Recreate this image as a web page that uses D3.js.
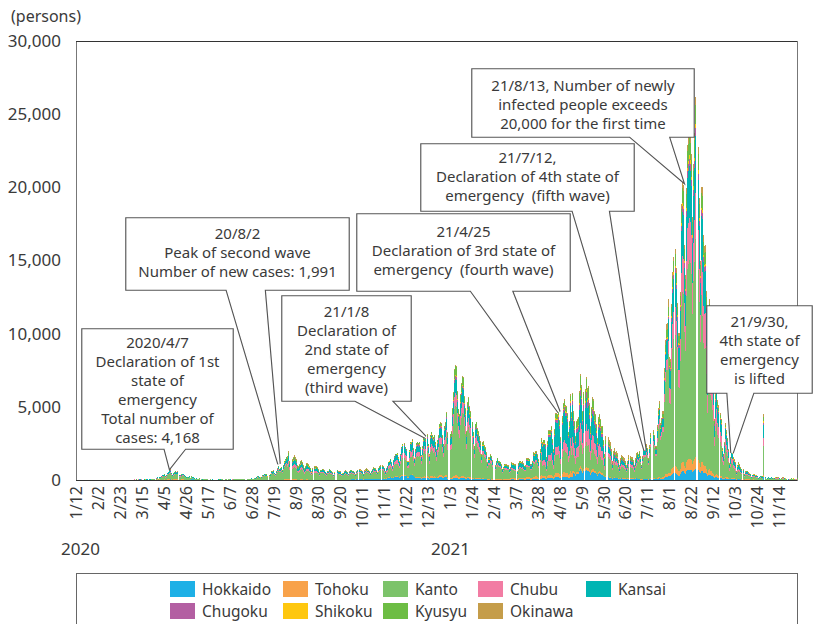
<!DOCTYPE html>
<html>
<head>
<meta charset="utf-8">
<script src="https://cdn.jsdelivr.net/npm/d3@7"></script>
<style>
body { margin: 0; background: #fff; }
svg text { font-family: "Noto Sans", sans-serif; fill: #3a3a3a; }
</style>
</head>
<body>
<svg id="chart" width="813" height="624"></svg>
<script>
// new cases per day, whole country, one row per week (Sun..Sat), first day 2020-01-12
var dailyTotal = [
  0,0,0,1,0,0,0,
  0,0,0,0,1,1,1,
  0,0,2,1,3,1,2,
  0,0,0,0,2,0,1,
  0,0,0,1,5,2,1,
  5,5,3,4,8,12,14,
  12,10,14,16,24,21,14,
  10,16,18,33,28,37,59,
  33,35,28,54,52,41,60,
  23,17,44,37,39,43,33,
  38,41,68,65,96,90,112,
  194,88,225,206,266,354,362,
  385,248,351,503,579,658,718,
  507,373,451,548,587,570,584,
  348,342,390,440,436,366,304,
  201,174,210,283,165,258,204,
  200,125,87,122,96,82,104,
  52,41,79,57,99,53,62,
  30,27,49,27,38,14,14,
  21,26,25,38,35,42,52,
  45,31,39,40,34,48,47,
  37,29,38,55,40,43,60,
  62,46,44,40,41,68,75,
  57,38,48,68,75,75,110,
  92,86,119,125,194,250,275,
  200,187,204,326,369,430,405,
  408,261,333,400,621,588,658,
  510,420,631,795,981,779,843,
  885,697,1031,1314,1451,1580,1633,
  1991,1329,1342,1450,1595,1705,1563,
  1441,994,923,1080,1276,1359,1225,
  1013,795,981,1163,1152,1107,974,
  837,616,816,949,945,963,877,
  730,526,697,708,775,744,676,
  579,452,607,605,748,683,607,
  518,359,565,640,692,598,586,
  586,424,491,482,582,662,594,
  561,424,601,688,709,639,627,
  536,389,614,697,743,723,672,
  585,409,654,729,792,724,684,
  602,489,630,757,870,842,791,
  656,570,840,945,1019,1005,978,
  800,582,830,952,1231,1328,1440,
  1232,981,1388,1640,1771,1809,1834,
  1539,1317,1773,2285,2481,2496,2268,
  2144,1320,1326,2038,2609,2566,2769,
  2160,1535,2139,2534,2613,2542,2607,
  2249,1722,2311,2896,3140,2867,3130,
  2457,1784,3090,3311,3095,2972,3086,
  2600,2110,2753,3062,3851,3943,3898,
  3051,2489,3706,3940,4615,3250,3135,
  3158,3325,4915,6004,7570,7882,7790,
  6094,4876,4536,5874,6605,7133,7014,
  5759,4925,3318,5320,5664,5041,4717,
  3990,3300,2325,3854,3996,3530,3340,
  3039,2673,1781,2630,2647,2379,2284,
  1893,1218,1565,1569,1768,1668,1362,
  1377,1002,1308,1532,1317,1299,1236,
  1091,744,882,1111,1077,1072,996,
  997,775,884,1223,1173,1149,1071,
  1062,602,1128,1303,1321,1224,1286,
  1163,986,1012,1482,1528,1473,1463,
  1112,1115,1314,1907,1849,2009,2015,
  1747,1401,2086,2840,2612,2761,2764,
  2471,1570,2653,3446,3451,3436,3697,
  2778,2121,3453,4572,4568,4537,4797,
  4092,2925,4340,5292,5520,5114,5075,
  4606,3314,4048,5870,4677,5979,4705,
  4025,3000,4065,4190,4307,6052,7244,
  6479,4715,5997,6215,7050,6262,6417,
  5244,3667,5019,5683,5534,4735,4518,
  3810,2870,4286,4532,4202,3702,3692,
  2745,1788,3004,3188,2905,2759,2578,
  2091,1298,1981,2217,1932,1976,1863,
  1383,1000,1478,1740,1653,1555,1477,
  1290,1000,1305,1700,1669,1600,1600,
  1336,1051,1508,1827,1890,1777,1963,
  1628,1034,1642,2192,2253,2261,2454,
  2180,1485,2376,3193,3422,3430,3099,
  2322,2323,3758,4933,5396,3887,4224,
  4694,4685,7626,9576,10692,10743,12342,
  8392,8260,12034,14214,15262,15753,14465,
  12091,10034,10012,12855,18890,20365,20151,
  16083,14031,19955,22921,23456,23868,23492,
  22294,17968,21571,23692,26150,23935,22750,
  19263,14990,20020,20040,16750,16000,16079,
  12900,8220,11900,12400,10400,9800,8500,
  7200,4170,6000,6800,5500,5100,4600,
  4200,2200,1800,2600,3900,3400,2900,
  2142,1150,1585,2129,1976,1580,1447,
  1238,605,1041,1216,1064,875,768,
  727,388,600,615,624,513,508,
  414,229,375,430,377,352,320,
  304,155,234,301,264,265,4500,
  222,86,138,232,166,162,230,
  162,104,153,200,191,176,175,
  132,78,111,178,177,133,120,
  97,50,73,95,115,101,118,
  100,64,72,116
];

var regions = ["Hokkaido","Tohoku","Kanto","Chubu","Kansai","Chugoku","Shikoku","Kyusyu","Okinawa"];
var regionColors = ["#1eb0e6","#f8a24a","#7cc36a","#f27ca3","#00b5b3","#b35fa2","#fec70f","#6dbd44","#c59d4a"];

// share of each region in %, by month 2020-01 .. 2021-12
var hokkaidoShare = [10,30,15,5,20,10,1,1,2,7,12,5, 2,2,3,4,10,6,2,3,3,4,4,4];
var tohokuShare   = [0,2,3,4,2,1,2,2,2,3,2,3, 2,2,9,6,3,2,2,3,3,4,4,4];
var kantoShare    = [50,35,35,58,55,78,65,50,60,56,47,55, 60,62,48,27,24,45,66,57,50,44,38,38];
var chubuShare    = [20,15,12,8,4,3,7,12,10,9,14,11, 11,10,7,12,17,11,7,12,15,12,14,14];
var kansaiShare   = [10,8,25,14,10,4,15,17,15,13,18,16, 13,12,20,37,25,13,12,15,18,20,20,20];
var chugokuShare  = [0,0,2,2,1,0,1,1,1,1,2,3, 2,1,3,4,6,5,1,2,2,3,4,4];
var shikokuShare  = [0,1,1,1,0,0,1,1,1,1,1,1, 1,1,1,2,2,1,1,1,1,2,3,3];
var kyusyuShare   = [5,3,5,7,8,4,6,10,5,4,3,5, 8,7,5,6,11,7,5,5,5,7,8,8];
var okinawaShare  = [5,6,2,1,0,0,2,6,4,6,1,1, 1,3,4,2,2,10,4,2,3,4,5,5];
var shares = [hokkaidoShare,tohokuShare,kantoShare,chubuShare,kansaiShare,chugokuShare,shikokuShare,kyusyuShare,okinawaShare];

var yTicks = [0,5000,10000,15000,20000,25000,30000];
var tickEvery = 21;

var start = new Date(2020, 0, 12);
var fmtDay = d3.timeFormat("%-m/%-d");

var svg = d3.select("#chart");

var x = d3.scaleBand()
    .domain(d3.range(dailyTotal.length))
    .range([76, 798]);
var bw = x.bandwidth();

var y = d3.scaleLinear()
    .domain([0, 30000])
    .range([480, 41]);

var color = d3.scaleOrdinal().domain(regions).range(regionColors);

var table = dailyTotal.map(function(t, i) {
  var d = d3.timeDay.offset(start, i);
  var m = (d.getFullYear() - 2020) * 12 + d.getMonth();
  var row = {i: i};
  regions.forEach(function(r, k) { row[r] = t * shares[k][m] / 100; });
  return row;
});

var series = d3.stack().keys(regions)(table);

// plot frame
svg.append("rect")
    .attr("x", 76.5).attr("y", 41.5)
    .attr("width", 721).attr("height", 439)
    .attr("fill", "none")
    .attr("stroke", "#777");
svg.append("line").attr("x1", 76).attr("x2", 797).attr("y1", 41.5).attr("y2", 41.5)
    .attr("stroke", "#333");

// bars
svg.append("g")
    .attr("shape-rendering", "crispEdges")
  .selectAll("g")
  .data(series)
  .enter().append("g")
    .attr("fill", function(s) { return color(s.key); })
  .selectAll("rect")
  .data(function(s) { return s; })
  .enter().append("rect")
    .attr("x", function(d) { return x(d.data.i); })
    .attr("y", function(d) { return y(d[1]); })
    .attr("width", bw - 0.06)
    .attr("height", function(d) { return Math.max(0, y(d[0]) - y(d[1])); });

svg.append("line").attr("x1", 76).attr("x2", 797).attr("y1", 480.5).attr("y2", 480.5)
    .attr("stroke", "#333");

// y axis labels
svg.append("g").selectAll("text")
  .data(yTicks)
  .enter().append("text")
    .attr("x", 61)
    .attr("y", function(d) { return y(d); })
    .attr("dy", "0.35em")
    .attr("text-anchor", "end")
    .style("font-size", "17px")
    .text(d3.format(","));

svg.append("text")
    .attr("x", 11).attr("y", 22)
    .style("font-size", "16px")
    .text("(persons)");

// x axis labels
var tickIdx = d3.range(0, dailyTotal.length, tickEvery);
svg.append("g").selectAll("text")
  .data(tickIdx)
  .enter().append("text")
    .attr("transform", function(i) { return "translate(" + (x(i) + bw / 2) + ",486) rotate(-90)"; })
    .attr("dy", "0.35em")
    .attr("text-anchor", "end")
    .style("font-size", "16px")
    .text(function(i) { return fmtDay(d3.timeDay.offset(start, i)); });

svg.append("text").attr("x", 61).attr("y", 555).style("font-size", "17px").text("2020");
svg.append("text").attr("x", 431).attr("y", 555).style("font-size", "17px").text("2021");

// callouts
var callouts = [
  {x0: 83, y0: 330, x1: 232, y1: 448, b0: 165, b1: 185, tx: 170, ty: 467, ty0: 343, lh: 19,
   lines: ["2020/4/7", "Declaration of 1st", "state of", "emergency", "Total number of", "cases: 4,168"]},
  {x0: 127, y0: 219, x1: 348, y1: 289, b0: 227, b1: 264, tx: 279, ty: 464, ty0: 234, lh: 19,
   lines: ["20/8/2", "Peak of second wave", "Number of new cases: 1,991"]},
  {x0: 283, y0: 297, x1: 410, y1: 400, b0: 355, b1: 390, tx: 425, ty: 437, ty0: 312, lh: 19,
   lines: ["21/1/8", "Declaration of", "2nd state of", "emergency", "(third wave)"]},
  {x0: 358, y0: 215, x1: 569, y1: 290, b0: 471, b1: 511, tx: 559, ty: 412, ty0: 232, lh: 19,
   lines: ["21/4/25", "Declaration of 3rd state of", "emergency  (fourth wave)"]},
  {x0: 422, y0: 145, x1: 633, y1: 210, b0: 573, b1: 608, tx: 645, ty: 450, ty0: 158, lh: 19,
   lines: ["21/7/12,", "Declaration of 4th state of", "emergency  (fifth wave)"]},
  {x0: 473, y0: 70, x1: 693, y1: 136, b0: 630, b1: 668, tx: 682, ty: 180, ty0: 86, lh: 19,
   lines: ["21/8/13, Number of newly", "infected people exceeds", "20,000 for the first time"]},
  {x0: 708, y0: 307, x1: 811, y1: 392, b0: 728, b1: 753, tx: 732, ty: 453, ty0: 322, lh: 19,
   lines: ["21/9/30,", "4th state of", "emergency", "is lifted"]}
];

function calloutPath(c) {
  return "M" + c.x0 + "," + c.y0 + "H" + c.x1 + "V" + c.y1 + "H" + c.b1 +
    "L" + c.tx + "," + c.ty + "L" + c.b0 + "," + c.y1 + "H" + c.x0 + "Z";
}

var cg = svg.append("g").selectAll("g")
  .data(callouts)
  .enter().append("g");

cg.append("path")
    .attr("d", calloutPath)
    .attr("fill", "#fff")
    .attr("stroke", "#555")
    .attr("stroke-width", 3.6)
    .attr("stroke-linejoin", "miter");
cg.append("path")
    .attr("d", calloutPath)
    .attr("fill", "#fff")
    .attr("stroke", "#fff")
    .attr("stroke-width", 1.3);

cg.each(function(c) {
  d3.select(this).selectAll("text")
    .data(c.lines)
    .enter().append("text")
      .attr("x", (c.x0 + c.x1) / 2)
      .attr("y", function(d, k) { return c.ty0 + k * c.lh; })
      .attr("dy", "0.35em")
      .attr("text-anchor", "middle")
      .style("font-size", "15px")
      .style("white-space", "pre")
      .text(function(d) { return d; });
});

// legend
svg.append("rect")
    .attr("x", 76.5).attr("y", 573.5)
    .attr("width", 721).attr("height", 70)
    .attr("fill", "#fff")
    .attr("stroke", "#666");

var legendCols = [170, 283, 383, 478, 586];
var lg = svg.append("g").selectAll("g")
  .data(regions)
  .enter().append("g")
    .attr("transform", function(r, k) {
      return "translate(" + legendCols[k % 5] + "," + (k < 5 ? 581 : 603) + ")";
    });
lg.append("rect").attr("width", 25).attr("height", 16).attr("fill", color);
lg.append("text").attr("x", 32).attr("y", 14).style("font-size", "15.5px").text(function(r) { return r; });
</script>
</body>
</html>
